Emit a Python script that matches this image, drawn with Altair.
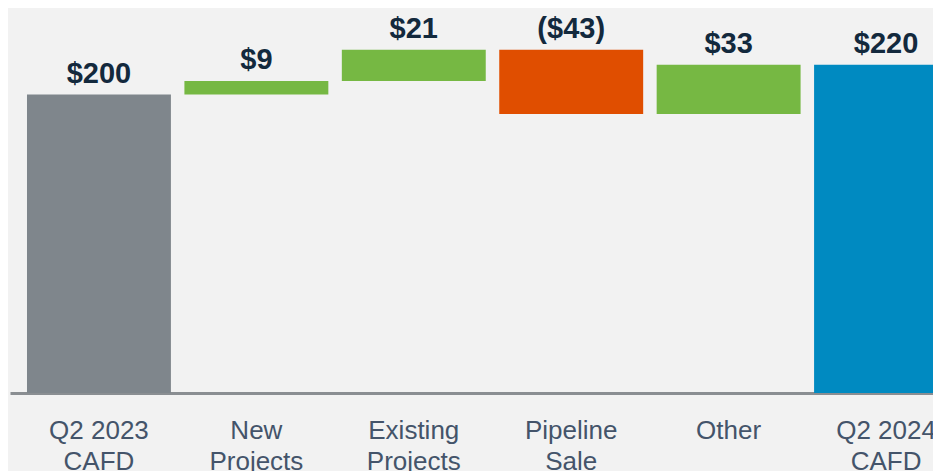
import altair as alt
import pandas as pd

categories = ["Q2 2023\nCAFD", "New\nProjects", "Existing\nProjects", "Pipeline\nSale", "Other", "Q2 2024\nCAFD"]
amounts = [200, 9, 21, -43, 33, 220]
kinds = ["total", "delta", "delta", "delta", "delta", "total"]
value_labels = ["$200", "$9", "$21", "($43)", "$33", "$220"]
bar_colors = ["#7f868c", "#76b843", "#76b843", "#e04e00", "#76b843", "#008ac1"]

starts, ends = [], []
running = 0
for amt, kind in zip(amounts, kinds):
    if kind == "total":
        starts.append(0)
        ends.append(amt)
        running = amt
    else:
        starts.append(running)
        running += amt
        ends.append(running)

df = pd.DataFrame({
    "cat": categories,
    "start": starts,
    "end": ends,
    "top": [max(s, e) for s, e in zip(starts, ends)],
    "label": value_labels,
    "color": bar_colors,
})

xscale = alt.Scale(domain=categories, range=[0, 965], paddingInner=13.5 / 157.5, paddingOuter=17 / 157.5)
yscale = alt.Scale(domain=[0, 258], nice=False, zero=True)

xenc = alt.X(
    "cat:N",
    scale=xscale,
    sort=categories,
    axis=alt.Axis(
        title=None,
        labelAngle=0,
        ticks=False,
        tickSize=0,
        domainColor="#8a8e92",
        domainWidth=3,
        labelFont="Liberation Sans",
        labelFontSize=26,
        labelColor="#44546a",
        labelPadding=24,
        labelLineHeight=31,
        labelLimit=300,
        labelExpr="split(datum.label, '\\n')",
    ),
)

base = alt.Chart(df)

bars = base.mark_bar(clip=True).encode(
    x=xenc,
    y=alt.Y("start:Q", scale=yscale, axis=None),
    y2="end:Q",
    color=alt.Color("color:N", scale=None),
)

texts = base.mark_text(
    font="Liberation Sans",
    fontSize=29,
    fontWeight="bold",
    color="#13293d",
    align="center",
    baseline="alphabetic",
    dy=-12,
).encode(
    x=alt.X("cat:N", scale=xscale, sort=categories),
    y=alt.Y("top:Q", scale=yscale),
    text="label:N",
)

chart = (
    alt.layer(bars, texts)
    .properties(
        width=923,
        height=385,
        background="#f2f2f2",
        padding={"left": 2, "top": 0, "right": 0, "bottom": 78},
        autosize=alt.AutoSizeParams(type="none"),
    )
    .configure_view(strokeWidth=0)
)

chart.save("out.html", embed_options={"renderer": "svg", "actions": False})
